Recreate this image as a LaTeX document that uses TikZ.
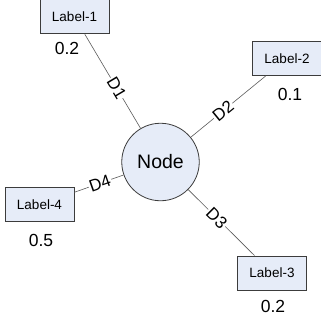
\documentclass[tikz,border=0pt]{standalone}
\usepackage{fontspec}
\setmainfont{Liberation Sans}
\definecolor{boxfill}{RGB}{230,236,248}
\definecolor{rimgray}{RGB}{60,60,60}
\definecolor{wiregray}{RGB}{90,90,90}

\begin{document}
\begin{tikzpicture}[x=1pt,y=-1pt]
				\tikzstyle{box} = [rectangle,fill=boxfill,draw=rimgray,line width=0.8pt,minimum width=69pt,minimum height=34pt,inner sep=0pt,font=\fontsize{13.5}{16}\selectfont];
				\tikzstyle{hub} = [circle,fill=boxfill,draw=rimgray,line width=0.8pt,minimum size=77.5pt,inner sep=0pt,font=\fontsize{19.5}{22}\selectfont];
				\tikzstyle{weight} = [inner sep=0pt,font=\fontsize{17.5}{20}\selectfont];
				\tikzstyle{dist} = [sloped,fill=white,inner sep=1pt,font=\fontsize{17}{20}\selectfont];
				\useasboundingbox (0,0) rectangle (321,321);
				\node[hub] (n) at (160.5, 162) {Node};
				\node[box] (l1) at (74.5, 16.8) {Label-1};
				\node[box] (l2) at (287, 58.5) {Label-2};
				\node[box] (l3) at (272, 273) {Label-3};
				\node[box] (l4) at (39.5, 204.5) {Label-4};
				\node[weight] (w1) at (67, 48) {0.2};
				\node[weight] (w2) at (290, 94) {0.1};
				\node[weight] (w3) at (273, 306) {0.2};
				\node[weight] (w4) at (41, 240) {0.5};
				\draw[draw=wiregray,line width=0.6pt] (n) -- node[dist,pos=0.43] {D1} (l1);
				\draw[draw=wiregray,line width=0.6pt] (n) -- node[dist,pos=0.43] {D2} (l2);
				\draw[draw=wiregray,line width=0.6pt] (n) -- node[dist,pos=0.43] {D3} (l3);
				\draw[draw=wiregray,line width=0.6pt] (n) -- node[dist,pos=0.48] {D4} (l4);
			\end{tikzpicture}
\end{document}
